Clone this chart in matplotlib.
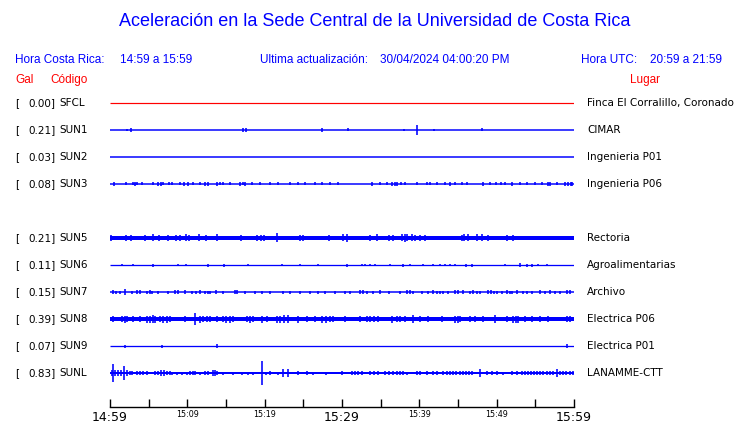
import numpy as np
import matplotlib
matplotlib.use("Agg")
import matplotlib.pyplot as plt
import matplotlib.transforms as mtransforms

# ── Header text ───────────────────────────────────────────────────────────────
TITLE = "Aceleración en la Sede Central de la Universidad de Costa Rica"
LOCAL_RANGE = "14:59 a 15:59"
UTC_RANGE = "20:59 a 21:59"
UPDATED = "30/04/2024 04:00:20 PM"

# ── Stations (row order, None = empty slot) ───────────────────────────────────
CODES = ["SFCL", "SUN1", "SUN2", "SUN3", None, "SUN5", "SUN6", "SUN7", "SUN8", "SUN9", "SUNL"]
PGA = [0.00, 0.21, 0.03, 0.08, None, 0.21, 0.11, 0.15, 0.39, 0.07, 0.83]
PLACES = ["Finca El Corralillo, Coronado", "CIMAR", "Ingenieria P01", "Ingenieria P06", None,
          "Rectoria", "Agroalimentarias", "Archivo", "Electrica P06", "Electrica P01", "LANAMME-CTT"]

# time axis (minutes after 14:59)
TICK_MIN = [0, 5, 10, 15, 20, 25, 30, 35, 40, 45, 50, 55, 60]
BIG_LABELS = {0: "14:59", 30: "15:29", 60: "15:59"}
SMALL_LABELS = {10: "15:09", 20: "15:19", 40: "15:39", 50: "15:49"}

# ── Trace events: time (min) and half-amplitude (display units) ──────────────
SFCL_T = []
SFCL_A = []

SUN1_T = [2.2, 2.7, 17.2, 17.6, 27.4, 30.8, 38.0, 39.7, 41.9, 48.1]
SUN1_A = [0.6, 2, 2, 2, 2, 1.5, 0.8, 5, 1, 1.5]

SUN2_T = []
SUN2_A = []

SUN3_T = [0.5, 2.1, 3.0, 3.2, 3.5, 4.1, 5.6, 6.2, 6.6, 6.9,
          7.6, 8.0, 9.1, 9.6, 10.1, 10.7, 11.6, 12.3, 12.7, 13.8,
          14.2, 14.6, 15.5, 16.8, 17.2, 17.5, 18.4, 19.4, 20.7, 21.7,
          23.3, 24.3, 25.2, 26.5, 27.4, 28.4, 29.5, 33.9, 34.9, 35.8,
          36.5, 36.9, 37.1, 37.6, 38.1, 39.7, 41.0, 41.4, 42.3, 43.3,
          44.0, 44.6, 45.5, 46.2, 48.2, 49.1, 49.9, 50.6, 51.1, 52.0,
          53.0, 53.9, 55.0, 55.9, 56.6, 56.9, 57.8, 58.8, 59.2, 59.6,
          59.8]
SUN3_A = [2, 1.5, 1.5, 2, 1.5, 1.5, 1.5, 2, 2, 1.5,
          1.5, 1.5, 1.5, 2, 2, 1.5, 1.5, 2, 2, 2,
          1.5, 1.5, 1.5, 2, 1.5, 2, 1.5, 1.5, 1.5, 1.5,
          1.5, 1.5, 1.5, 1.5, 1.5, 1.5, 1.5, 2, 1.5, 1.5,
          2, 2, 2, 1.5, 1.5, 1.5, 1.5, 1.5, 1.5, 1.5,
          2, 1.5, 1.5, 1.5, 2, 1.5, 1.5, 1.5, 1.5, 2,
          1.5, 1.5, 1.5, 1.5, 2, 2, 1.5, 2, 2, 2,
          2]

SUN5_T = [0.1, 2.1, 2.7, 4.5, 5.6, 6.3, 7.5, 8.5, 9.1, 9.8,
          10.2, 11.5, 12.4, 13.8, 16.9, 19.0, 19.5, 19.9, 21.6, 24.6,
          25.0, 28.3, 30.1, 30.6, 33.6, 34.5, 36.1, 36.6, 37.8, 38.1,
          38.4, 39.0, 39.4, 40.1, 40.7, 45.5, 45.8, 46.3, 47.5, 48.1,
          48.9, 51.3, 52.1]
SUN5_A = [3, 3, 3, 3, 3.5, 3, 3, 3, 3, 3.5,
          3, 3.5, 3, 3.5, 3, 3, 3, 3, 4.5, 3,
          3, 3, 3.5, 4, 3, 3.5, 3, 3, 3.5, 4,
          3.5, 3.5, 3, 3, 3, 3, 3.5, 3.5, 3.5, 3.5,
          3, 3, 3]

SUN6_T = [1.6, 3.0, 5.6, 8.8, 9.8, 12.7, 14.7, 17.8, 22.2, 24.6,
          26.9, 30.6, 32.6, 33.0, 33.6, 34.3, 36.2, 37.9, 38.8, 40.5,
          41.8, 42.7, 43.3, 44.0, 44.6, 46.0, 46.8, 51.1, 53.0, 53.9,
          54.6, 55.3, 56.5]
SUN6_A = [1, 1, 1.5, 1, 1, 1.5, 1.5, 1, 1, 1,
          1, 1.5, 1, 1, 1, 1, 1, 1.5, 1, 1,
          1, 1, 1, 1, 1, 1.5, 1.5, 1, 2, 1.5,
          1.5, 1, 1]

SUN7_T = [0.4, 0.8, 1.3, 1.9, 2.8, 3.5, 3.9, 4.8, 5.2, 5.4,
          6.2, 7.5, 8.4, 8.8, 9.7, 10.6, 11.1, 11.6, 12.3, 12.7,
          12.9, 13.7, 14.6, 16.2, 16.4, 17.5, 18.8, 19.7, 20.7, 22.4,
          23.3, 24.6, 25.9, 26.9, 27.8, 29.1, 30.4, 31.0, 32.3, 32.7,
          33.2, 34.0, 34.9, 36.1, 37.5, 38.4, 38.8, 39.2, 40.3, 41.1,
          41.8, 42.3, 42.7, 43.1, 43.7, 44.6, 45.0, 45.6, 46.5, 46.9,
          47.5, 47.8, 48.9, 49.3, 49.7, 50.0, 50.7, 51.3, 51.7, 52.0,
          52.6, 53.4, 53.9, 54.6, 55.6, 56.2, 56.9, 57.5, 58.2, 59.1,
          59.5]
SUN7_A = [2, 1.5, 1.5, 3, 1.5, 2, 2, 1.5, 2, 1.5,
          1.5, 1.5, 2, 2, 2, 1.5, 1.5, 2, 1.5, 1.5,
          1.5, 2, 1.5, 2, 2, 1.5, 1.5, 1.5, 1.5, 1.5,
          1.5, 1.5, 1.5, 1.5, 1.5, 1.5, 1.5, 1.5, 2, 2,
          1.5, 1.5, 2, 1.5, 1.5, 2, 2, 1.5, 1.5, 1.5,
          2, 1.5, 1.5, 1.5, 1.5, 2, 2, 2, 1.5, 2,
          1.5, 1.5, 2, 2, 1.5, 1.5, 1.5, 2, 1.5, 1.5,
          2, 1.5, 1.5, 1.5, 2, 1.5, 2, 1.5, 1.5, 2,
          2]

SUN8_T = [0.4, 1.6, 1.9, 2.2, 3.0, 3.9, 4.8, 5.2, 5.6, 5.8,
          6.5, 6.9, 7.4, 7.8, 9.7, 11.0, 11.6, 12.0, 12.5, 12.9,
          13.8, 14.6, 15.0, 15.5, 15.9, 17.7, 18.1, 18.5, 19.7, 20.3,
          21.6, 22.0, 22.5, 23.0, 24.3, 25.5, 26.5, 27.4, 27.9, 28.4,
          28.8, 30.4, 32.3, 33.2, 33.6, 34.1, 34.7, 36.5, 37.1, 37.5,
          38.1, 39.2, 40.1, 41.1, 42.9, 44.6, 45.0, 45.3, 46.5, 47.2,
          48.2, 49.8, 51.3, 52.1, 52.5, 52.8, 53.7, 54.6, 55.6, 56.6,
          59.1, 59.5]
SUN8_A = [3, 3, 3.5, 3, 3, 3, 3.5, 3.5, 4, 3.5,
          3, 3.5, 3.5, 3, 3, 6, 3.5, 3, 3, 3,
          3, 3, 3.5, 3.5, 3, 3, 3.5, 3, 3.5, 3,
          3.5, 3.5, 4, 4, 3.5, 3, 3, 3.5, 3.5, 3,
          3, 3, 3, 3, 3, 3, 3, 3.5, 3, 3,
          3, 4, 3, 3, 3, 3.5, 3.5, 3, 3, 3,
          3, 4, 3, 3.5, 3.5, 3.5, 3, 3, 3, 3,
          3, 3]

SUN9_T = [1.9, 6.7, 13.8, 59.1]
SUN9_A = [1.5, 1.5, 2, 2]

SUNL_T = [0.3, 0.4, 0.6, 1.0, 1.4, 1.8, 2.2, 2.6, 2.8, 3.5,
          3.9, 4.3, 4.8, 5.8, 6.2, 6.6, 7.0, 7.4, 7.8, 8.0,
          8.7, 9.3, 10.0, 10.3, 10.7, 11.0, 11.6, 12.3, 12.7, 13.3,
          13.6, 13.8, 14.6, 15.9, 17.1, 17.8, 18.5, 19.7, 20.2, 20.7,
          21.7, 22.4, 23.0, 24.3, 25.5, 26.2, 27.9, 30.0, 31.3, 31.7,
          32.1, 32.6, 33.6, 34.1, 34.7, 35.6, 36.1, 36.6, 37.1, 37.5,
          37.9, 38.4, 39.7, 40.1, 41.0, 41.8, 42.3, 43.1, 43.6, 44.0,
          44.4, 44.7, 45.3, 45.6, 46.0, 46.4, 46.8, 47.8, 48.7, 49.4,
          50.0, 50.8, 52.0, 52.6, 53.3, 53.7, 54.0, 54.4, 54.8, 55.2,
          55.6, 56.0, 56.5, 56.9, 57.3, 57.8, 58.2, 58.6, 59.0, 59.5,
          59.9]
SUNL_A = [3, 9, 3, 3, 3, 7, 3, 2, 2, 2,
          2, 2, 2, 2, 2, 2.5, 2.5, 2, 2, 1.5,
          1.5, 1.5, 1.5, 2, 2, 2, 1.5, 2, 2, 3,
          3, 2, 1.5, 1.5, 1.5, 1.5, 1.5, 12, 1.5, 2,
          1.5, 4, 4, 2, 2, 1.5, 1.5, 2, 2, 2,
          2, 2, 2, 2, 2, 2, 2, 2, 2, 2,
          2, 1.5, 2, 2, 2, 2, 2, 2, 2, 2,
          2, 2, 2, 2, 2, 2, 2, 4, 2, 2,
          2, 1.5, 2, 2, 2, 2, 2, 2, 2, 2,
          2, 2, 2, 2, 2, 4, 2, 2, 2, 2,
          2]

# base trace thickness (px) for each row
BASE_PX = [1.2, 1.5, 1.5, 1.5, None, 4.0, 1.3, 1.5, 4.0, 1.3, 2.0]

EVENTS = [(SFCL_T, SFCL_A), (SUN1_T, SUN1_A), (SUN2_T, SUN2_A), (SUN3_T, SUN3_A), None,
          (SUN5_T, SUN5_A), (SUN6_T, SUN6_A), (SUN7_T, SUN7_A), (SUN8_T, SUN8_A),
          (SUN9_T, SUN9_A), (SUNL_T, SUNL_A)]

# ── Layout (pixels of the 740x423 canvas) ────────────────────────────────────
W, H = 740, 423
BLUE = "#0000ff"
RED = "#ff0000"
ROW0_Y, ROW_DY = 103, 27
X0, X1 = 110, 574
AX_TOP, AX_BOT = 90, 407
PX2PT = 0.72

fig = plt.figure(figsize=(W / 100, H / 100), dpi=100)
fig.patch.set_facecolor("white")


def fx(px):
    return px / W


def fy(py):
    return 1 - py / H


hfont = dict(family="Liberation Sans", va="center")
fig.text(fx(375), fy(22), TITLE, color=BLUE, fontsize=13, ha="center", **hfont)
fig.text(fx(15), fy(60), "Hora Costa Rica:", color=BLUE, fontsize=8.5, ha="left", **hfont)
fig.text(fx(120.5), fy(60), LOCAL_RANGE, color=BLUE, fontsize=8.5, ha="left", **hfont)
fig.text(fx(260), fy(60), "Ultima actualización:", color=BLUE, fontsize=8.5, ha="left", **hfont)
fig.text(fx(380), fy(60), UPDATED, color=BLUE, fontsize=8.5, ha="left", **hfont)
fig.text(fx(581), fy(60), "Hora UTC:", color=BLUE, fontsize=8.5, ha="left", **hfont)
fig.text(fx(650), fy(60), UTC_RANGE, color=BLUE, fontsize=8.5, ha="left", **hfont)
fig.text(fx(15), fy(80), "Gal", color=RED, fontsize=8.5, ha="left", **hfont)
fig.text(fx(50), fy(80), "Código", color=RED, fontsize=8.5, ha="left", **hfont)
fig.text(fx(630), fy(80), "Lugar", color=RED, fontsize=8.5, ha="left", **hfont)

# ── Trace axes ────────────────────────────────────────────────────────────────
ax = fig.add_axes([fx(X0), fy(AX_BOT), (X1 - X0) / W, (AX_BOT - AX_TOP) / H])
ax.set_xlim(0, 60)
ax.set_ylim((AX_BOT - ROW0_Y) / ROW_DY, (AX_TOP - ROW0_Y) / ROW_DY)
ax.patch.set_alpha(0)
for side in ("top", "left", "right"):
    ax.spines[side].set_visible(False)
ax.spines["bottom"].set_linewidth(1.0)
ax.set_yticks([])

ax.set_xticks(TICK_MIN)
ax.set_xticklabels([""] * len(TICK_MIN))
ax.tick_params(axis="x", direction="in", length=8 * PX2PT, width=1.0, pad=3)
for m, lab in BIG_LABELS.items():
    ax.text(m, 1.02 * 0 + (AX_BOT - ROW0_Y + 10) / ROW_DY, lab, fontsize=9,
            ha="center", va="center", color="black", clip_on=False)
for m, lab in SMALL_LABELS.items():
    ax.text(m, (AX_BOT - ROW0_Y + 7.5) / ROW_DY, lab, fontsize=5.8,
            ha="center", va="center", color="black", clip_on=False)

label_tr = mtransforms.blended_transform_factory(fig.transFigure, ax.transData)

for i, code in enumerate(CODES):
    if code is None:
        continue
    color = RED if code == "SFCL" else BLUE
    ax.hlines(i, 0, 60, color=color, lw=BASE_PX[i] * PX2PT)
    t, a = EVENTS[i]
    if len(t):
        a = np.asarray(a) / ROW_DY
        ax.vlines(t, i - a, i + a, color=color, lw=1.6 * PX2PT)

    ax.text(fx(15), i, "[", fontsize=7.5, ha="left", va="center",
            transform=label_tr, color="black")
    ax.text(fx(55.5), i, f"{PGA[i]:.2f}]", fontsize=7.5, ha="right", va="center",
            transform=label_tr, color="black")
    ax.text(fx(59), i, code, fontsize=7.5, ha="left", va="center",
            transform=label_tr, color="black")
    ax.text(fx(587), i, PLACES[i], fontsize=7.5, ha="left", va="center",
            transform=label_tr, color="black")

fig.savefig("out.png", dpi=100)
